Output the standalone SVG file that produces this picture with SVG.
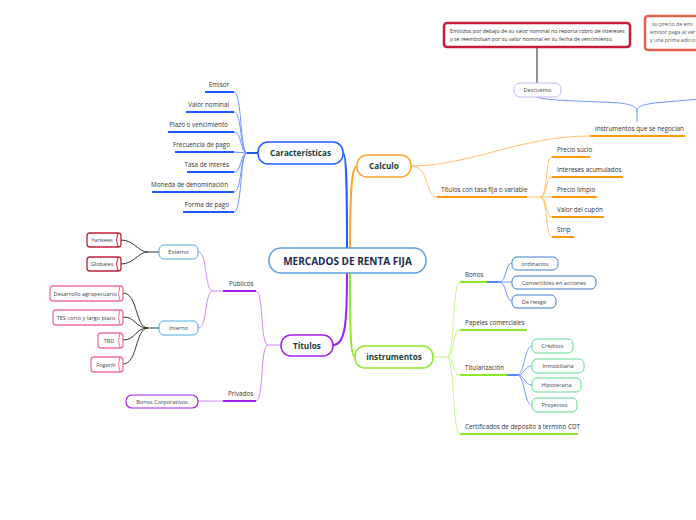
<svg xmlns="http://www.w3.org/2000/svg" width="696" height="520" viewBox="0 0 696 520">
<style>
text{font-family:"Open Sans","Noto Sans","Liberation Sans",sans-serif;}
.lbl{font-size:6.3px;fill:#333;}
.box{font-size:5.6px;fill:#444;text-anchor:middle;}
.main{font-size:8.2px;font-weight:bold;fill:#183f36;text-anchor:middle;}
.c{fill:none;}
.bl{stroke:#6e98ff;stroke-width:1;}
.blu{stroke:#1c5cff;stroke-width:2;}
.or{stroke:#ffc070;stroke-width:1;}
.oru{stroke:#ff9a00;stroke-width:2;}
.pu{stroke:#d08af5;stroke-width:1;}
.puu{stroke:#a21ef0;stroke-width:2;}
.gr{stroke:#c4f58a;stroke-width:1;}
.gru{stroke:#8fe826;stroke-width:2;}
.bk{stroke:#333;stroke-width:1;}
</style>
<rect width="696" height="520" fill="#fff"/>
<g id="connectors">
  <path class="c" d="M347,250 C347,200 347,153 343,153" stroke="#1c5cff" stroke-width="2"/>
  <path class="c" d="M350,250 C350,200 351,166 357,166" stroke="#ffa526" stroke-width="2"/>
  <path class="c" d="M347,272 C347,320 346,345 333,345" stroke="#a21ef0" stroke-width="2"/>
  <path class="c" d="M350,272 C350,320 350,357 355,357" stroke="#8fe826" stroke-width="2"/>
  <path class="c blu" d="M258,153 L247,153"/>
  <path class="c bl" d="M247,153 C240,153 242,92 234,92"/>
  <path class="c bl" d="M247,153 C240,153 242,112 234,112"/>
  <path class="c bl" d="M247,153 C240,153 242,132 234,132"/>
  <path class="c bl" d="M247,153 L234,152"/>
  <path class="c bl" d="M247,153 C240,153 242,172 234,172"/>
  <path class="c bl" d="M247,153 C240,153 242,192 234,192"/>
  <path class="c bl" d="M247,153 C240,153 242,212 234,212"/>
  <path class="c blu" d="M205,92 H234 M186,112 H234 M168,132 H234 M175,152 H234 M187,172 H234 M152,192 H234 M183,212 H234"/>
  <path class="c or" d="M411,166 C470,166 520,136 590,136"/>
  <path class="c or" d="M411,166 C430,166 425,197 437,197"/>
  <path class="c oru" d="M590,136 H685 M437,197 H527"/>
  <path class="c or" d="M527,197 H540"/>
  <path class="c or" d="M540,197 C548,197 545,157 552,157"/>
  <path class="c or" d="M540,197 C548,197 545,177 552,177"/>
  <path class="c or" d="M540,197 L552,197"/>
  <path class="c or" d="M540,197 C548,197 545,217 552,217"/>
  <path class="c or" d="M540,197 C548,197 545,237 552,237"/>
  <path class="c oru" d="M552,157 H590 M552,177 H623 M552,197 H597 M552,217 H604 M552,237 H574"/>
  <path class="c bl" d="M637,122 L637,112 C637,107 634,105 620,103 C590,101 545,101 537,97"/>
  <path class="c bl" d="M637,112 C637,107 640,105 655,103 C675,101 690,100 700,99"/>
  <path class="c" d="M537,47 V83" stroke="#222" stroke-width="1"/>
  <path class="c pu" d="M281,345 L268,345"/>
  <path class="c pu" d="M268,345 C260,345 264,291 256,291"/>
  <path class="c pu" d="M268,345 C260,345 264,401 256,401"/>
  <path class="c puu" d="M223,291 H256 M223,401 H256"/>
  <path class="c pu" d="M198,401 H223"/>
  <path class="c pu" d="M223,291 L213,291"/>
  <path class="c pu" d="M213,291 C204,291 208,252 198,252"/>
  <path class="c pu" d="M213,291 C204,291 208,328 198,328"/>
  <path class="c bk" d="M159,252 L148,252"/>
  <path class="c bk" d="M148,252 C138,252 134,240 121,240"/>
  <path class="c bk" d="M148,252 C138,252 134,264 121,264"/>
  <path class="c bk" d="M159,328 L148,328"/>
  <path class="c bk" d="M148,328 C135,328 138,293 123,293"/>
  <path class="c bk" d="M148,328 C135,328 136,317 123,317"/>
  <path class="c bk" d="M148,328 C135,328 136,340 123,340"/>
  <path class="c bk" d="M148,328 C135,328 138,364 123,364"/>
  <path class="c gr" d="M433,357 L447,357"/>
  <path class="c gr" d="M447,357 C455,357 452,282 460,282"/>
  <path class="c gr" d="M447,357 C455,357 452,330 460,330"/>
  <path class="c gr" d="M447,357 C455,357 452,375 460,375"/>
  <path class="c gr" d="M447,357 C455,357 452,434 460,434"/>
  <path class="c gru" d="M460,282 H487 M460,330 H527 M460,375 H507 M460,434 H578"/>
  <path class="c" d="M487,282 H499 M507,375 H517" stroke="#1c5cff" stroke-width="1.5"/>
  <path class="c bl" d="M499,282 C507,282 505,263 512,263"/>
  <path class="c bl" d="M499,282 C507,282 505,282 512,282"/>
  <path class="c bl" d="M499,282 C507,282 505,301 512,301"/>
  <path class="c bl" d="M517,375 C525,375 524,346 532,346"/>
  <path class="c bl" d="M517,375 C525,375 524,366 532,366"/>
  <path class="c bl" d="M517,375 C525,375 524,385 532,385"/>
  <path class="c bl" d="M517,375 C525,375 524,405 532,405"/>
</g>
<g id="n-center"><rect x="269" y="248" width="157" height="25" rx="12" fill="#fff" stroke="#5b9ee0" stroke-width="1.5"/><text x="347.5" y="264.5" font-size="10" font-weight="bold" fill="#1a2b50" text-anchor="middle">MERCADOS DE RENTA FIJA</text></g>
<g id="n-caracteristicas"><rect x="258" y="142" width="85" height="22" rx="10" fill="#fff" stroke="#1c5cff" stroke-width="1.5"/><text class="main" x="300.5" y="156">Características</text></g>
<g id="n-calculo"><rect x="357" y="155" width="54" height="22" rx="10" fill="#fff" stroke="#ffa526" stroke-width="1.5"/><text class="main" x="384" y="169">Calculo</text></g>
<g id="n-titulos"><rect x="281" y="335" width="52" height="21" rx="10" fill="#fff" stroke="#a21ef0" stroke-width="1.5"/><text class="main" x="307" y="348.5">Títulos</text></g>
<g id="n-instrumentos"><rect x="355" y="346" width="78" height="22" rx="10" fill="#fff" stroke="#8fe826" stroke-width="1.5"/><text class="main" x="394" y="360">instrumentos</text></g>

<g id="n-emisor"><text class="lbl" x="229" y="87" text-anchor="end">Emisor</text></g>
<g id="n-valor"><text class="lbl" x="229" y="107" text-anchor="end">Valor nominal</text></g>
<g id="n-plazo"><text class="lbl" x="228" y="127" text-anchor="end">Plazo o vencimiento</text></g>
<g id="n-frecuencia"><text class="lbl" x="230" y="147" text-anchor="end">Frecuencia de pago</text></g>
<g id="n-tasa"><text class="lbl" x="229" y="167" text-anchor="end">Tasa de interés</text></g>
<g id="n-moneda"><text class="lbl" x="228" y="187" text-anchor="end">Moneda de denominación</text></g>
<g id="n-forma"><text class="lbl" x="229" y="207" text-anchor="end">Forma de pago</text></g>

<g id="n-negocian"><text class="lbl" x="595" y="131">Instrumentos que se negocian</text></g>
<g id="n-tasafija"><text class="lbl" x="441" y="192">Titulos con tasa fija o variable</text></g>
<g id="n-sucio"><text class="lbl" x="557" y="152">Precio sucio</text></g>
<g id="n-intereses"><text class="lbl" x="557" y="172">Intereses acumulados</text></g>
<g id="n-limpio"><text class="lbl" x="557" y="192">Precio limpio</text></g>
<g id="n-cupon"><text class="lbl" x="557" y="212">Valor del cupón</text></g>
<g id="n-strip"><text class="lbl" x="557" y="232">Strip</text></g>

<g id="n-descuento"><rect x="514" y="83" width="47" height="14" rx="6" fill="#fff" stroke="#c4bcef" stroke-width="1"/><text class="box" x="537.5" y="92">Descuento</text></g>
<g id="n-callout1"><rect x="444" y="23" width="186" height="24" rx="3" fill="#fff" stroke="#c41e3a" stroke-width="2.5"/><text x="450" y="33" font-size="5.3" fill="#333">Emitidos por debajo de su valor nominal no reporta cobro de intereses</text><text x="450" y="41" font-size="5.3" fill="#333">y se reembolsan por su valor nominal en su fecha de vencimiento.</text></g>
<g id="n-callout2"><rect x="645" y="16" width="80" height="34" rx="3" fill="#fff" stroke="#e8604c" stroke-width="2.5"/><text x="652" y="26" font-size="5.3" fill="#555">su precio de emi</text><text x="650" y="34" font-size="5.3" fill="#555">emisor paga al ver</text><text x="650" y="42" font-size="5.3" fill="#555">y una prima adicio</text></g>

<g id="n-publicos"><text class="lbl" x="229" y="286">Públicos</text></g>
<g id="n-privados"><text class="lbl" x="228" y="396">Privados</text></g>
<g id="n-externo"><rect x="159" y="245" width="39" height="14" rx="5" fill="#fff" stroke="#4aaeea" stroke-width="1"/><text class="box" x="178.5" y="254">Externo</text></g>
<g id="n-interno"><rect x="159" y="321" width="39" height="14" rx="5" fill="#fff" stroke="#4aaeea" stroke-width="1"/><text class="box" x="178.5" y="330">Interno</text></g>
<g id="n-yankees"><rect x="87" y="233" width="34" height="14" rx="3" fill="#fff" stroke="#c41e3a" stroke-width="1.3"/><path d="M118,233 Q115,240 118,247" fill="none" stroke="#c41e3a" stroke-width="1"/><text class="box" x="102" y="242" fill="#777">Yankees</text></g>
<g id="n-globales"><rect x="87" y="257" width="34" height="14" rx="3" fill="#fff" stroke="#c41e3a" stroke-width="1.3"/><path d="M118,257 Q115,264 118,271" fill="none" stroke="#c41e3a" stroke-width="1"/><text class="box" x="102" y="266" fill="#777">Globales</text></g>
<g id="n-desarrollo"><rect x="50" y="286" width="73" height="15" rx="3" fill="#fff" stroke="#f07095" stroke-width="1.3"/><path d="M120,286 Q117,293.5 120,301" fill="none" stroke="#f07095" stroke-width="1"/><text class="box" x="85" y="295.5" fill="#777">Desarrollo agropecuario</text></g>
<g id="n-tes"><rect x="53" y="310" width="70" height="15" rx="3" fill="#fff" stroke="#f07095" stroke-width="1.3"/><path d="M120,310 Q117,317.5 120,325" fill="none" stroke="#f07095" stroke-width="1"/><text class="box" x="86" y="319.5" fill="#777">TES corto y largo plazo</text></g>
<g id="n-trd"><rect x="98" y="333" width="25" height="15" rx="3" fill="#fff" stroke="#f07095" stroke-width="1.3"/><path d="M120,333 Q117,340.5 120,348" fill="none" stroke="#f07095" stroke-width="1"/><text class="box" x="109" y="342.5" fill="#777">TRD</text></g>
<g id="n-fogarin"><rect x="91" y="357" width="32" height="15" rx="3" fill="#fff" stroke="#f07095" stroke-width="1.3"/><path d="M120,357 Q117,364.5 120,372" fill="none" stroke="#f07095" stroke-width="1"/><text class="box" x="106" y="366.5" fill="#777">Fogarín</text></g>
<g id="n-bonoscorp"><rect x="126" y="395" width="72" height="13" rx="6" fill="#fff" stroke="#a21ef0" stroke-width="1.2"/><text class="box" x="162" y="403.5">Bonos Corporativos</text></g>

<g id="n-bonos"><text class="lbl" x="465" y="277">Bonos</text></g>
<g id="n-papeles"><text class="lbl" x="465" y="325">Papeles comerciales</text></g>
<g id="n-titularizacion"><text class="lbl" x="465" y="370">Titularización</text></g>
<g id="n-cdt"><text class="lbl" x="465" y="429">Certificados de deposito a termino CDT</text></g>
<g id="n-ordinarios"><rect x="512" y="257" width="46" height="13" rx="5" fill="#fff" stroke="#3a7fd0" stroke-width="1"/><text class="box" x="535" y="265.5">ordinarios</text></g>
<g id="n-convertibles"><rect x="512" y="276" width="84" height="13" rx="5" fill="#fff" stroke="#3a7fd0" stroke-width="1"/><text class="box" x="554" y="284.5">Convertibles en acciones</text></g>
<g id="n-riesgo"><rect x="512" y="295" width="44" height="13" rx="5" fill="#fff" stroke="#3a7fd0" stroke-width="1"/><text class="box" x="534" y="303.5">De riesgo</text></g>
<g id="n-creditos"><rect x="532" y="339" width="41" height="14" rx="5" fill="#fff" stroke="#5edc8e" stroke-width="1"/><text class="box" x="552.5" y="348">Créditos</text></g>
<g id="n-inmobiliaria"><rect x="532" y="359" width="52" height="14" rx="5" fill="#fff" stroke="#5edc8e" stroke-width="1"/><text class="box" x="558" y="368">Inmobiliaria</text></g>
<g id="n-hipotecaria"><rect x="532" y="378" width="49" height="14" rx="5" fill="#fff" stroke="#5edc8e" stroke-width="1"/><text class="box" x="556.5" y="387">Hipotecaria</text></g>
<g id="n-proyectos"><rect x="532" y="398" width="45" height="14" rx="5" fill="#fff" stroke="#5edc8e" stroke-width="1"/><text class="box" x="554.5" y="407">Proyectos</text></g>
</svg>
